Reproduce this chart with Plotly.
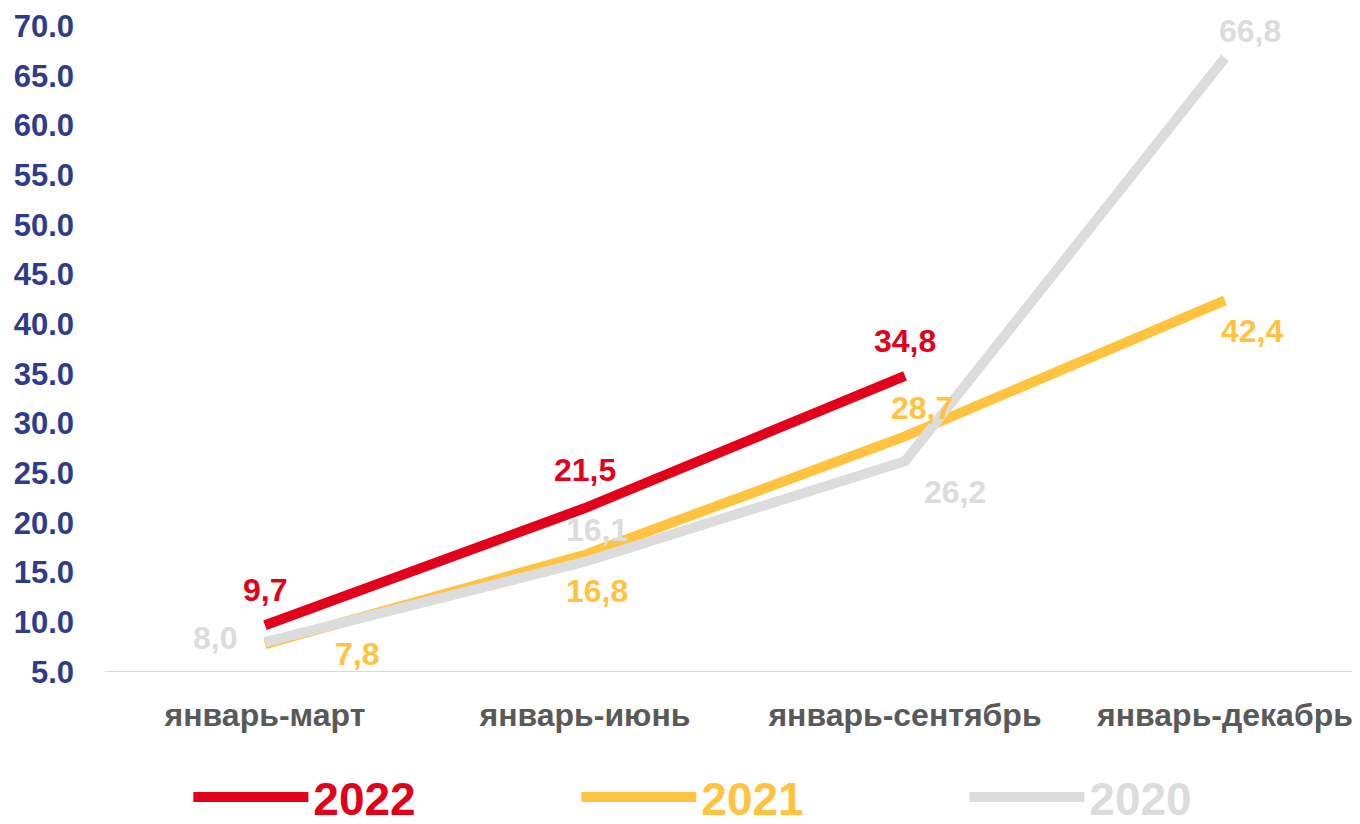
import plotly.graph_objects as go

categories = ["январь-март", "январь-июнь", "январь-сентябрь", "январь-декабрь"]
series_names = ["2022", "2021", "2020"]
values_2022 = [9.7, 21.5, 34.8]
values_2021 = [7.8, 16.8, 28.7, 42.4]
values_2020 = [8.0, 16.1, 26.2, 66.8]
y_ticks = [5, 10, 15, 20, 25, 30, 35, 40, 45, 50, 55, 60, 65, 70]

# styles
colors = {"2022": "#E2001A", "2021": "#FFC33F", "2020": "#DCDCDC"}
label_offsets = {
    "2022": [(0, 35), (0, 38), (0, 35)],
    "2021": [(92, -10), (12, -36), (17, 28), (27, -31)],
    "2020": [(-50, 4), (12, 32), (50, -31), (25, 27)],
}
data = {"2022": values_2022, "2021": values_2021, "2020": values_2020}
draw_order = ["2021", "2020", "2022"]
legend_rank = {"2022": 1, "2021": 2, "2020": 3}

fig = go.Figure()
for name in draw_order:
    vals = data[name]
    fig.add_trace(go.Scatter(
        x=list(range(len(vals))), y=vals, mode="lines",
        line=dict(color=colors[name], width=10),
        name=f"<b><span style='color:{colors[name]}'>{name}</span></b>",
        legendrank=legend_rank[name],
    ))

annotations = []
for name in series_names:
    for i, v in enumerate(data[name]):
        dx, dy = label_offsets[name][i]
        annotations.append(dict(
            x=i, y=v, xref="x", yref="y", text=f"<b>{v:.1f}</b>".replace(".", ","),
            showarrow=False, xshift=dx, yshift=dy,
            font=dict(family="Liberation Sans, Arial, sans-serif", size=32, color=colors[name]),
        ))

fig.update_layout(
    width=1360, height=824,
    margin=dict(l=97, r=0, t=18, b=160, autoexpand=False),
    plot_bgcolor="white", paper_bgcolor="white",
    annotations=annotations,
    showlegend=True,
    legend=dict(
        orientation="h", x=0.066, xanchor="left", y=-0.137, yanchor="top",
        font=dict(family="Liberation Sans Narrow, Liberation Sans, sans-serif", size=46),
        entrywidth=258, entrywidthmode="pixels", itemwidth=115,
        traceorder="normal",
    ),
    xaxis=dict(
        range=[-0.5, 3.447], tickvals=list(range(len(categories))), ticktext=[f"<b>{c}</b>" for c in categories],
        tickfont=dict(family="Liberation Sans, Arial, sans-serif", size=32, color="#595959"),
        showgrid=False, zeroline=False, showline=False, ticks="", ticklabelstandoff=21,
    ),
    yaxis=dict(
        range=[5, 70], tickvals=y_ticks, tickformat=".1f",
        tickfont=dict(family="Liberation Sans, Arial, sans-serif", size=31, color="#2F3C8A", weight="bold"),
        showgrid=False, zeroline=False, showline=False, ticks="", ticklabelstandoff=30,
    ),
    shapes=[dict(type="line", xref="paper", yref="y", x0=0, x1=1, y0=5, y1=5,
                 line=dict(color="#D9D9D9", width=2), layer="below")],
)
fig.write_html("out.html")
